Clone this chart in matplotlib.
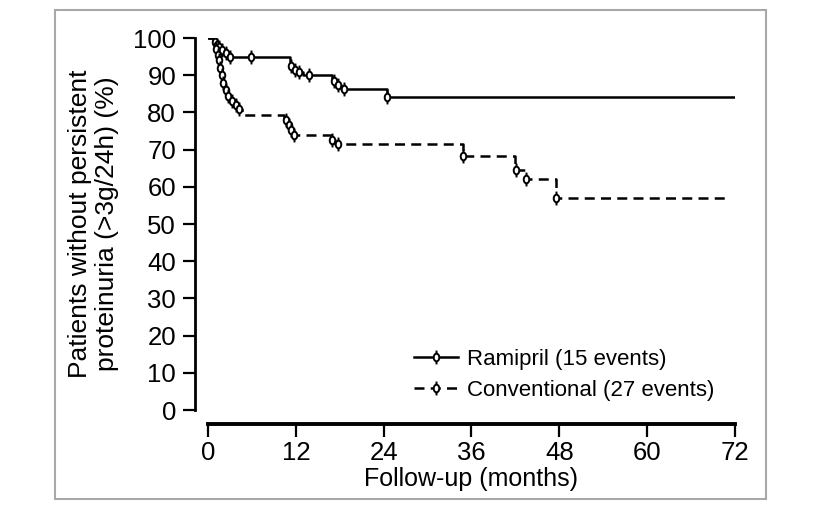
import numpy as np
import matplotlib
matplotlib.use("Agg")
import matplotlib.pyplot as plt
from matplotlib.path import Path
from matplotlib.patches import Rectangle
from matplotlib.lines import Line2D

# ---- data ----
ram_times = [0, 0.7, 1.0, 1.3, 1.7, 2.2, 2.8, 11.2, 11.6, 12.2, 13.0, 16.9, 17.4, 18.2, 24.4, 72]
ram_surv = [100, 99.0, 98.2, 97.5, 96.8, 96.0, 95.0, 92.5, 91.5, 90.8, 90.0, 88.5, 87.5, 86.2, 84.2, 84.2]
ram_censor = [0.9, 1.2, 1.5, 1.9, 2.5, 3.0, 5.9, 11.4, 11.9, 12.5, 13.8, 17.2, 17.8, 18.6, 24.5]

con_times = [0, 0.8, 1.0, 1.2, 1.4, 1.6, 1.8, 2.0, 2.3, 2.6, 3.0, 3.5, 4.0, 4.6,
             10.4, 10.8, 11.2, 11.6, 16.8, 17.4, 34.8, 42.0, 43.3, 47.5, 71.3]
con_surv = [100, 98.5, 97.0, 95.5, 94.0, 92.0, 90.0, 88.0, 86.0, 84.5, 83.0, 82.0, 80.8, 79.3,
            78.0, 76.6, 75.2, 73.9, 72.5, 71.4, 68.3, 64.5, 62.0, 56.9, 56.9]
con_censor = [1.1, 1.3, 1.5, 1.7, 1.9, 2.1, 2.5, 2.8, 3.3, 3.8, 4.2, 10.6, 11.0, 11.3, 11.8,
              17.0, 17.8, 34.9, 42.1, 43.4, 47.6]

labels = ["Ramipril (15 events)", "Conventional (27 events)"]
xticks = [0, 12, 24, 36, 48, 60, 72]
yticks = list(range(0, 101, 10))


def step_value(times, surv, t):
    idx = np.searchsorted(times, t, side="right") - 1
    return np.asarray(surv)[idx]


# censor marker: hollow narrow ellipse with short vertical ticks
def censor_marker():
    circ = Path.unit_circle()
    verts = circ.vertices * np.array([0.4, 0.55])
    codes = list(circ.codes)
    verts = list(map(tuple, verts))
    verts += [(0, 0.55), (0, 1.0), (0, -0.55), (0, -1.0)]
    codes += [Path.MOVETO, Path.LINETO, Path.MOVETO, Path.LINETO]
    return Path(verts, codes)


mk = censor_marker()
MS = 10
DASH = (0, (4, 2.5))

plt.rcParams['font.family'] = ['Liberation Sans', 'DejaVu Sans']

fig = plt.figure(figsize=(8.2, 5.18), dpi=100)
ax = fig.add_axes([208 / 820, 1 - 410 / 518, (735 - 208) / 820, (410 - 38) / 518])

# light gray frame around the figure
fig.patches.append(Rectangle((55 / 820, 1 - 499 / 518), (766 - 55) / 820, (499 - 9.5) / 518,
                             transform=fig.transFigure, fill=False, edgecolor='#a8a8a8',
                             linewidth=1.5))

ax.plot(ram_times, ram_surv, drawstyle='steps-post', color='black', lw=1.8, ls='-')
ax.plot(con_times, con_surv, drawstyle='steps-post', color='black', lw=1.8, ls=DASH)

ax.plot(ram_censor, step_value(ram_times, ram_surv, ram_censor), ls='none', marker=mk,
        markersize=MS, markerfacecolor='white', markeredgecolor='black', mew=1.4)
ax.plot(con_censor, step_value(con_times, con_surv, con_censor), ls='none', marker=mk,
        markersize=MS, markerfacecolor='white', markeredgecolor='black', mew=1.4)

ax.set_xlim(0, 72)
ax.set_ylim(0, 100)
ax.set_xticks(xticks)
ax.set_yticks(yticks)
ax.tick_params(axis='both', labelsize=18.5, length=9, width=1.6, direction='out')
ax.tick_params(axis='x', pad=3)
ax.tick_params(axis='y', pad=5)

for s in ['top', 'right']:
    ax.spines[s].set_visible(False)
ax.spines['left'].set_position(('outward', 9))
ax.spines['bottom'].set_position(('outward', 10))
ax.spines['left'].set_linewidth(2.0)
ax.spines['bottom'].set_linewidth(2.8)

ax.set_xlabel("Follow-up (months)", fontsize=18, labelpad=2)
ax.set_ylabel("Patients without persistent\nproteinuria (>3g/24h) (%)", fontsize=19,
              labelpad=10, linespacing=1.15)

h1 = Line2D([], [], color='black', lw=1.8, ls='-', marker=mk, markersize=MS,
            markerfacecolor='white', markeredgecolor='black', mew=1.4)
h2 = Line2D([], [], color='black', lw=1.8, ls=DASH, marker=mk, markersize=MS,
            markerfacecolor='white', markeredgecolor='black', mew=1.4)
ax.legend([h1, h2], labels, loc='lower right', bbox_to_anchor=(0.978, 0.0),
          frameon=False, fontsize=16, handlelength=2.0, handletextpad=0.4,
          labelspacing=0.45, borderaxespad=0.0)

fig.savefig("out.png", dpi=100)
